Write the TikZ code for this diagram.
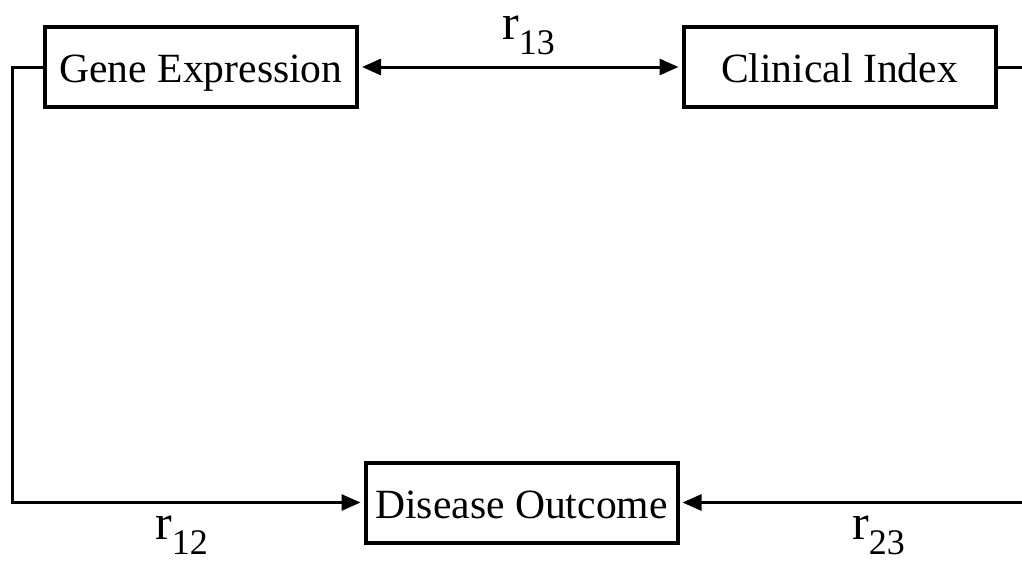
\documentclass[tikz,border=0pt]{standalone}
\usepackage{fontspec}
\setmainfont{Liberation Serif}
\usetikzlibrary{arrows.meta}

\newcommand{\corr}[1]{{\fontsize{50}{60}\selectfont r\raisebox{-15pt}{\fontsize{36}{40}\selectfont #1}}}

\begin{document}
\begin{tikzpicture}[x=1pt,y=-1pt,
  block/.style={draw, line width=4pt, inner sep=0pt,
    minimum width=312pt, minimum height=80pt,
    text height=38pt, text depth=7pt,
    font=\fontsize{41.6}{50}\selectfont},
  link/.style={line width=3pt},
  head/.tip={Triangle[length=19pt,width=16pt]},
  tip/.style={-head, shorten >=3pt},
  corrlabel/.style={anchor=base west, inner sep=0pt}]
  \useasboundingbox (0,0) rectangle (1022,565);

  % measurement blocks
  \node[block] (gene) at (201,67) {Gene Expression};
  \node[block] (clin) at (839.5,67) {Clinical Index};
  \node[block] (out)  at (521.5,502.5) {Disease Outcome};

  % corners of the outer loop
  \coordinate (lt) at (12,67);
  \coordinate (lb) at (12,502.5);
  \coordinate (rt) at (1030,67);
  \coordinate (rb) at (1030,502.5);

  % pairwise correlations
  \draw[link, head-head, shorten <=3pt, shorten >=3pt] (gene.east) -- (clin.west);
  \draw[link, tip] (gene.west) -- (lt) -- (lb) -- (out.west);
  \draw[link, tip] (clin.east) -- (rt) -- (rb) -- (out.east);

  % correlation labels
  \node[corrlabel] (r13) at (502,39) {\corr{13}};
  \node[corrlabel] (r12) at (155,539) {\corr{12}};
  \node[corrlabel] (r23) at (852,539) {\corr{23}};
\end{tikzpicture}
\end{document}
